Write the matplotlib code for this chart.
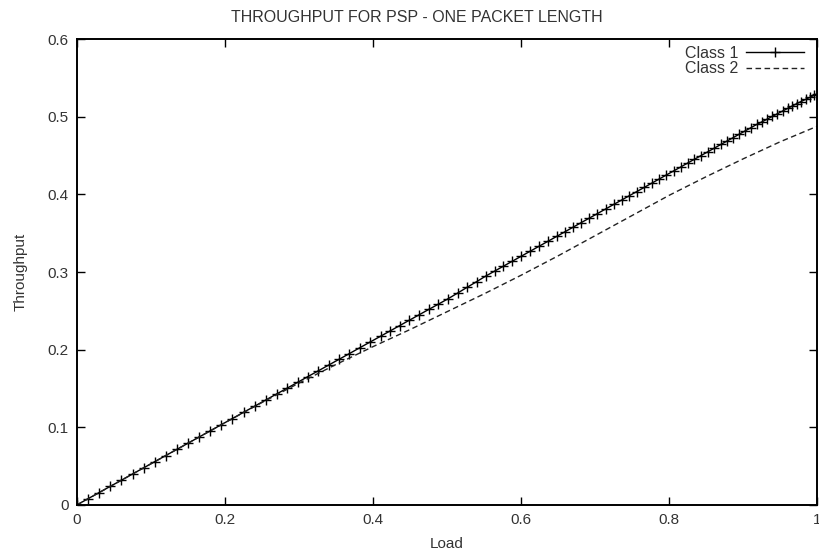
import matplotlib
matplotlib.use("Agg")
import matplotlib.pyplot as plt

# Class 1 (sampled points, denser towards high load)
load_c1 = [0.000, 0.015, 0.030, 0.045, 0.060, 0.075, 0.090, 0.105, 0.120, 0.135,
           0.150, 0.165, 0.180, 0.195, 0.210, 0.225, 0.240, 0.255, 0.270, 0.284,
           0.298, 0.312, 0.326, 0.340, 0.354, 0.368, 0.382, 0.396, 0.410, 0.423,
           0.436, 0.449, 0.462, 0.475, 0.488, 0.501, 0.514, 0.527, 0.540, 0.552,
           0.564, 0.576, 0.588, 0.600, 0.612, 0.624, 0.636, 0.648, 0.659, 0.670,
           0.681, 0.692, 0.703, 0.714, 0.725, 0.736, 0.746, 0.756, 0.766, 0.776,
           0.786, 0.796, 0.806, 0.816, 0.825, 0.834, 0.843, 0.852, 0.861, 0.870,
           0.878, 0.886, 0.894, 0.902, 0.910, 0.918, 0.925, 0.932, 0.939, 0.946,
           0.953, 0.960, 0.966, 0.972, 0.978, 0.984, 0.990, 0.995, 1.000]
thr_c1 = [0.0000, 0.0080, 0.0159, 0.0239, 0.0318, 0.0398, 0.0477, 0.0557, 0.0636, 0.0716,
          0.0795, 0.0875, 0.0954, 0.1034, 0.1113, 0.1193, 0.1272, 0.1352, 0.1431, 0.1505,
          0.1579, 0.1654, 0.1728, 0.1802, 0.1876, 0.1950, 0.2025, 0.2099, 0.2173, 0.2242,
          0.2311, 0.2380, 0.2449, 0.2518, 0.2586, 0.2655, 0.2729, 0.2804, 0.2878, 0.2948,
          0.3012, 0.3076, 0.3140, 0.3204, 0.3268, 0.3332, 0.3396, 0.3460, 0.3519, 0.3578,
          0.3637, 0.3695, 0.3754, 0.3813, 0.3872, 0.3930, 0.3984, 0.4037, 0.4090, 0.4144,
          0.4197, 0.4251, 0.4304, 0.4357, 0.4406, 0.4454, 0.4502, 0.4550, 0.4598, 0.4646,
          0.4689, 0.4731, 0.4774, 0.4817, 0.4859, 0.4902, 0.4935, 0.4970, 0.5005, 0.5040,
          0.5075, 0.5110, 0.5140, 0.5170, 0.5198, 0.5225, 0.5252, 0.5276, 0.5300]

# Class 2
load_c2 = [0.0, 0.1, 0.2, 0.25, 0.3, 0.35, 0.4, 0.45, 0.5, 0.55, 0.6, 0.65,
           0.7, 0.75, 0.8, 0.85, 0.9, 0.95, 0.98, 1.0]
thr_c2 = [0.0, 0.053, 0.106, 0.132, 0.157, 0.181, 0.204, 0.226, 0.249, 0.272, 0.296, 0.321,
          0.347, 0.373, 0.399, 0.423, 0.446, 0.468, 0.480, 0.488]

x_ticks = [0, 0.2, 0.4, 0.6, 0.8, 1]
x_ticklabels = ["0", "0.2", "0.4", "0.6", "0.8", "1"]
y_ticks = [0, 0.1, 0.2, 0.3, 0.4, 0.5, 0.6]
y_ticklabels = ["0", "0.1", "0.2", "0.3", "0.4", "0.5", "0.6"]

plt.rcParams["font.family"] = ["Liberation Sans", "DejaVu Sans"]
text_color = "#333333"

fig = plt.figure(figsize=(8.19, 5.53), dpi=100)
ax = fig.add_axes([0.094, 0.087, 0.904, 0.842])

ax.plot(load_c1, thr_c1, color="black", linewidth=1.0, marker="+",
        markersize=7, markeredgewidth=1.0, label="Class 1")
ax.plot(load_c2, thr_c2, color="#222222", linewidth=1.0, linestyle=(0, (4, 2.5)),
        label="Class 2")

ax.set_xlim(0, 1)
ax.set_ylim(0, 0.6)
ax.set_xticks(x_ticks)
ax.set_xticklabels(x_ticklabels)
ax.set_yticks(y_ticks)
ax.set_yticklabels(y_ticklabels)
ax.tick_params(direction="in", length=6, width=1, top=True, right=True,
               labelsize=11, labelcolor=text_color, pad=6, colors="black")
for s in ax.spines.values():
    s.set_linewidth(1.4)

ax.set_xlabel("Load", fontsize=11, color=text_color, labelpad=7)
ax.set_ylabel("Throughput", fontsize=11, color=text_color, labelpad=14)
fig.text(0.509, 0.968, "THROUGHPUT FOR PSP - ONE PACKET LENGTH", fontsize=11.5,
         color=text_color, ha="center", va="center")

ax.legend(loc="upper right", bbox_to_anchor=(0.99, 1.0), frameon=False,
          markerfirst=False, fontsize=11.5, handlelength=3.6, handletextpad=0.5,
          labelspacing=0.05, borderaxespad=0.0, labelcolor=text_color)

fig.savefig("out.png", dpi=100)
